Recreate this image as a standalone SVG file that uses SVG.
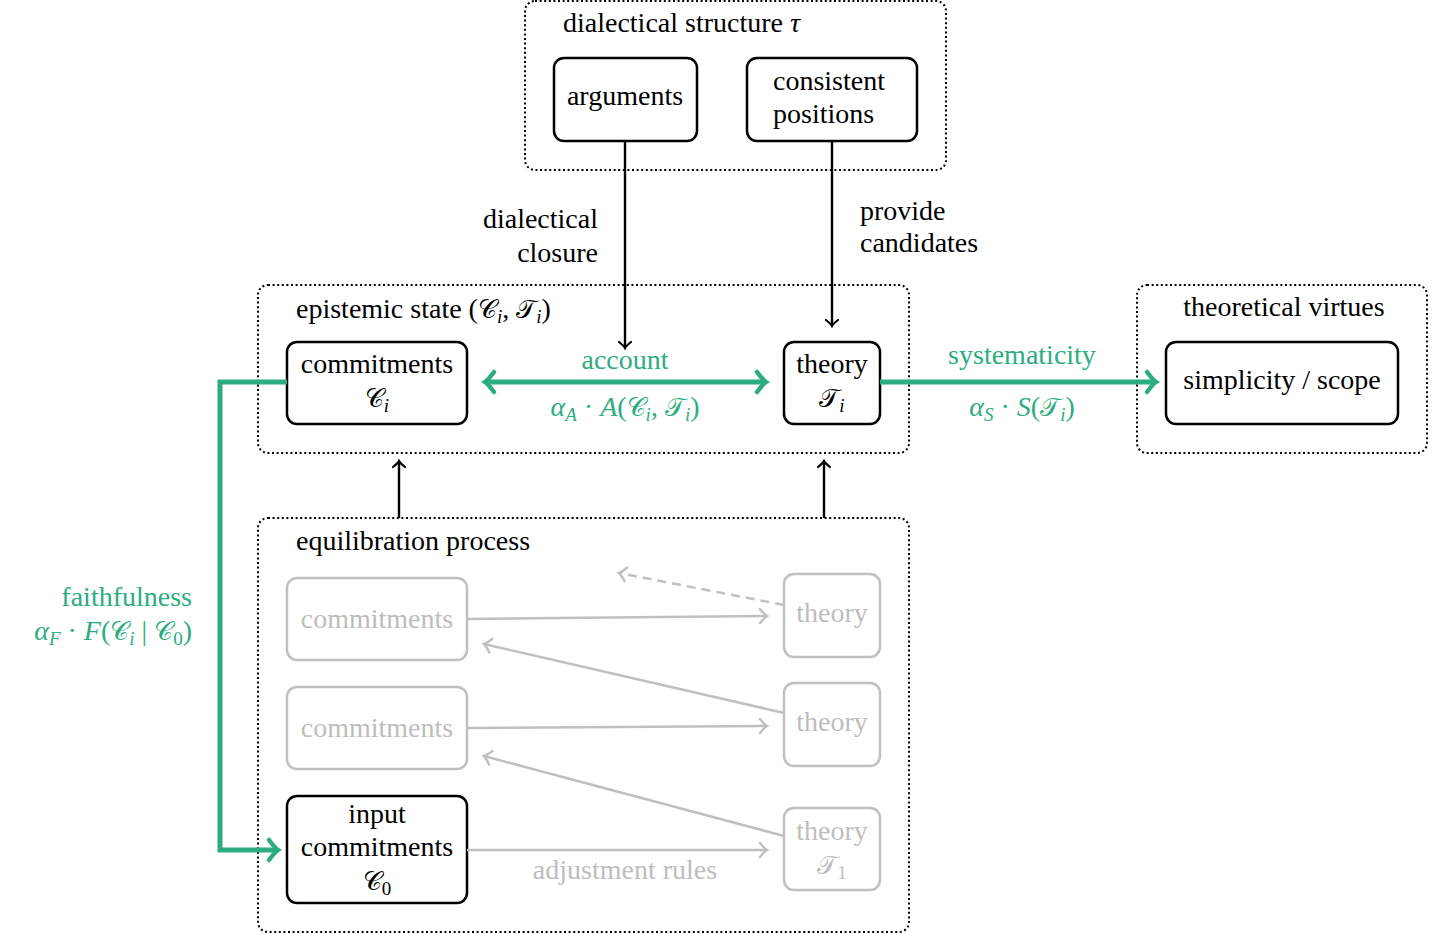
<svg xmlns="http://www.w3.org/2000/svg" width="1432" height="934" viewBox="0 0 1432 934">
<style>
text{font-family:"Liberation Serif","DejaVu Serif",serif;font-size:28px;fill:#000}
.g{fill:#2cad80}
.gr{fill:#bdbdbd}
.it{font-style:italic}
.cal{font-family:"DejaVu Sans","Liberation Serif",serif;font-style:normal;font-size:26px}
.sub{font-size:19px}
.c{text-anchor:middle}
.r{text-anchor:end}
.outer{fill:none;stroke:#000;stroke-width:2;stroke-dasharray:2 2.6}
.node{fill:#fff;stroke:#000;stroke-width:2.5}
.gnode{fill:#fff;stroke:#c0c0c0;stroke-width:2.5}
.bl{fill:none;stroke:#000;stroke-width:2.4}
.gl{fill:none;stroke:#2cad80;stroke-width:5}
.gy{fill:none;stroke:#c0c0c0;stroke-width:2.5}
</style>
<defs>
<marker id="ab" markerUnits="userSpaceOnUse" viewBox="-12 -12 16 24" markerWidth="16" markerHeight="24" refX="0" refY="0" orient="auto" overflow="visible">
<path d="M-6,-6 Q-2,-1 0,0 Q-2,1 -6,6" fill="none" stroke="#000" stroke-width="2.2" stroke-linecap="round"/>
</marker>
<marker id="ag" markerUnits="userSpaceOnUse" viewBox="-14 -14 18 28" markerWidth="18" markerHeight="28" refX="0" refY="0" orient="auto-start-reverse" overflow="visible">
<path d="M-9,-10 Q-3,-2 0,0 Q-3,2 -9,10" fill="none" stroke="#2cad80" stroke-width="4.5" stroke-linecap="round"/>
</marker>
<marker id="ay" markerUnits="userSpaceOnUse" viewBox="-12 -12 16 24" markerWidth="16" markerHeight="24" refX="0" refY="0" orient="auto" overflow="visible">
<path d="M-7,-7 Q-2,-1 0,0 Q-2,1 -7,7" fill="none" stroke="#c0c0c0" stroke-width="2.5" stroke-linecap="round"/>
</marker>
</defs>
<rect width="1432" height="934" fill="#fff"/>

<g id="dialectical-structure">
<rect class="outer" x="525" y="1" width="421" height="169" rx="10"/>
<text x="563" y="32">dialectical structure <tspan class="it">τ</tspan></text>
</g>
<g id="arguments">
<rect class="node" x="554" y="58" width="143" height="83" rx="10"/>
<text class="c" x="625" y="105">arguments</text>
</g>
<g id="consistent-positions">
<rect class="node" x="747" y="58" width="170" height="83" rx="10"/>
<text x="773" y="90">consistent</text>
<text x="773" y="123">positions</text>
</g>

<g id="epistemic-state">
<rect class="outer" x="258" y="285" width="651" height="168" rx="10"/>
<text x="296" y="318">epistemic state (<tspan class="cal">𝒞</tspan><tspan class="it sub" dy="5">i</tspan><tspan dy="-5">, </tspan><tspan class="cal">𝒯</tspan><tspan class="it sub" dy="5">i</tspan><tspan dy="-5">)</tspan></text>
</g>
<g id="commitments-i">
<rect class="node" x="287" y="342" width="180" height="82" rx="10"/>
<text class="c" x="377" y="373">commitments</text>
<text class="c" x="377" y="407"><tspan class="cal">𝒞</tspan><tspan class="it sub" dy="5">i</tspan></text>
</g>
<g id="theory-i">
<rect class="node" x="784" y="342" width="96" height="82" rx="10"/>
<text class="c" x="832" y="373">theory</text>
<text class="c" x="832" y="407"><tspan class="cal">𝒯</tspan><tspan class="it sub" dy="5">i</tspan></text>
</g>

<g id="theoretical-virtues">
<rect class="outer" x="1137" y="285" width="290" height="168" rx="10"/>
<text class="c" x="1284" y="316">theoretical virtues</text>
</g>
<g id="simplicity-scope">
<rect class="node" x="1166" y="342" width="232" height="82" rx="10"/>
<text class="c" x="1282" y="389">simplicity / scope</text>
</g>

<g id="equilibration-process">
<rect class="outer" x="258" y="518" width="651" height="414" rx="10"/>
<text x="296" y="550">equilibration process</text>
</g>
<g id="commitments-g1">
<rect class="gnode" x="287" y="578" width="180" height="82" rx="10"/>
<text class="c gr" x="377" y="628">commitments</text>
</g>
<g id="theory-g1">
<rect class="gnode" x="784" y="574" width="96" height="83" rx="10"/>
<text class="c gr" x="832" y="622">theory</text>
</g>
<g id="commitments-g2">
<rect class="gnode" x="287" y="687" width="180" height="82" rx="10"/>
<text class="c gr" x="377" y="737">commitments</text>
</g>
<g id="theory-g2">
<rect class="gnode" x="784" y="683" width="96" height="83" rx="10"/>
<text class="c gr" x="832" y="731">theory</text>
</g>
<g id="input-commitments">
<rect class="node" x="287" y="796" width="180" height="107" rx="10"/>
<text class="c" x="377" y="823">input</text>
<text class="c" x="377" y="856">commitments</text>
<text class="c" x="377" y="890"><tspan class="cal">𝒞</tspan><tspan class="sub" dy="5">0</tspan></text>
</g>
<g id="theory-1">
<rect class="gnode" x="784" y="808" width="96" height="82" rx="10"/>
<text class="c gr" x="832" y="840">theory</text>
<text class="c gr" x="832" y="874"><tspan class="cal">𝒯</tspan><tspan class="sub" dy="5">1</tspan></text>
</g>

<g id="connectors">
<line class="bl" x1="625" y1="141" x2="625" y2="348" marker-end="url(#ab)"/>
<line class="bl" x1="832" y1="141" x2="832" y2="326" marker-end="url(#ab)"/>
<text class="r" x="598" y="228">dialectical</text>
<text class="r" x="598" y="262">closure</text>
<text x="860" y="220">provide</text>
<text x="860" y="252">candidates</text>

<line class="gl" x1="485" y1="382" x2="766" y2="382" marker-start="url(#ag)" marker-end="url(#ag)"/>
<text class="c g" x="625" y="369">account</text>
<text class="c g" x="625" y="416"><tspan class="it">α</tspan><tspan class="it sub" dy="5">A</tspan><tspan dy="-5"> · </tspan><tspan class="it">A</tspan>(<tspan class="cal">𝒞</tspan><tspan class="it sub" dy="5">i</tspan><tspan dy="-5">, </tspan><tspan class="cal">𝒯</tspan><tspan class="it sub" dy="5">i</tspan><tspan dy="-5">)</tspan></text>

<line class="gl" x1="880" y1="382" x2="1156" y2="382" marker-end="url(#ag)"/>
<text class="c g" x="1022" y="364">systematicity</text>
<text class="c g" x="1022" y="416"><tspan class="it">α</tspan><tspan class="it sub" dy="5">S</tspan><tspan dy="-5"> · </tspan><tspan class="it">S</tspan>(<tspan class="cal">𝒯</tspan><tspan class="it sub" dy="5">i</tspan><tspan dy="-5">)</tspan></text>

<polyline class="gl" points="287,382 220,382 220,850 278,850" marker-end="url(#ag)"/>
<text class="r g" x="192" y="606">faithfulness</text>
<text class="r g" x="192" y="640"><tspan class="it">α</tspan><tspan class="it sub" dy="5">F</tspan><tspan dy="-5"> · </tspan><tspan class="it">F</tspan>(<tspan class="cal">𝒞</tspan><tspan class="it sub" dy="5">i</tspan><tspan dy="-5"> | </tspan><tspan class="cal">𝒞</tspan><tspan class="sub" dy="5">0</tspan><tspan dy="-5">)</tspan></text>

<line class="bl" x1="399" y1="518" x2="399" y2="461" marker-end="url(#ab)"/>
<line class="bl" x1="824" y1="518" x2="824" y2="461" marker-end="url(#ab)"/>

<line class="gy" x1="467" y1="619" x2="767" y2="616" marker-end="url(#ay)"/>
<line class="gy" x1="784" y1="605" x2="619" y2="573" stroke-dasharray="9 6" marker-end="url(#ay)"/>
<line class="gy" x1="784" y1="713" x2="484" y2="644" marker-end="url(#ay)"/>
<line class="gy" x1="467" y1="728" x2="767" y2="726" marker-end="url(#ay)"/>
<line class="gy" x1="784" y1="836" x2="484" y2="756" marker-end="url(#ay)"/>
<line class="gy" x1="467" y1="850" x2="767" y2="850" marker-end="url(#ay)"/>
<text class="c gr" x="625" y="879">adjustment rules</text>
</g>
</svg>
